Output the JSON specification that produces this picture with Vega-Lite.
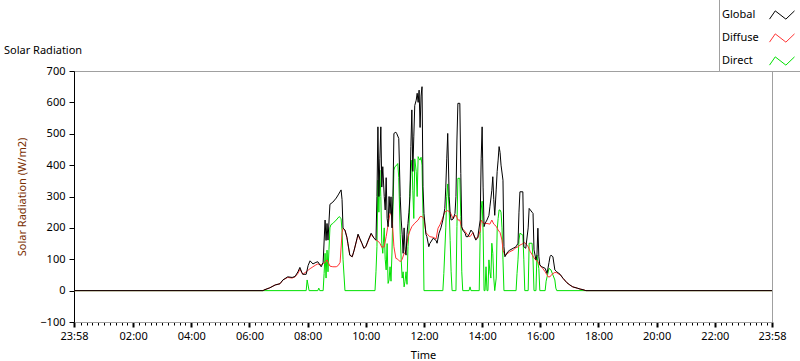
{
"$schema": "https://vega.github.io/schema/vega-lite/v6.json",
"width": 698, "height": 251,
"autosize": {"type": "none"},
"padding": {"left": 74, "top": 71, "right": 28, "bottom": 39},
"background": "#ffffff",
"title": {"text": "Solar Radiation", "anchor": "start", "frame": "group", "dx": -70, "offset": 0, "dy": 57, "font": "Noto Sans", "fontSize": 11, "fontWeight": "normal", "color": "#000000"},
"datasets": {
"global": [
{"t":"2023-12-31T23:58","v":0},{"t":"2024-01-01T06:26","v":0},{"t":"2024-01-01T06:28","v":0},{"t":"2024-01-01T06:30","v":2},{"t":"2024-01-01T06:42","v":9},{"t":"2024-01-01T06:53","v":18},{"t":"2024-01-01T07:03","v":22},{"t":"2024-01-01T07:09","v":34},{"t":"2024-01-01T07:19","v":44},{"t":"2024-01-01T07:28","v":42},{"t":"2024-01-01T07:34","v":45},{"t":"2024-01-01T07:40","v":60},{"t":"2024-01-01T07:44","v":74},{"t":"2024-01-01T07:48","v":58},{"t":"2024-01-01T07:50","v":52},{"t":"2024-01-01T07:57","v":52},{"t":"2024-01-01T08:01","v":80},{"t":"2024-01-01T08:05","v":95},{"t":"2024-01-01T08:11","v":85},{"t":"2024-01-01T08:17","v":90},{"t":"2024-01-01T08:21","v":92},{"t":"2024-01-01T08:28","v":76},{"t":"2024-01-01T08:32","v":90},{"t":"2024-01-01T08:36","v":225},{"t":"2024-01-01T08:38","v":160},{"t":"2024-01-01T08:40","v":214},{"t":"2024-01-01T08:42","v":161},{"t":"2024-01-01T08:46","v":275},{"t":"2024-01-01T08:52","v":282},{"t":"2024-01-01T08:59","v":295},{"t":"2024-01-01T09:03","v":305},{"t":"2024-01-01T09:09","v":321},{"t":"2024-01-01T09:11","v":290},{"t":"2024-01-01T09:13","v":199},{"t":"2024-01-01T09:17","v":193},{"t":"2024-01-01T09:21","v":170},{"t":"2024-01-01T09:23","v":151},{"t":"2024-01-01T09:27","v":113},{"t":"2024-01-01T09:32","v":108},{"t":"2024-01-01T09:36","v":129},{"t":"2024-01-01T09:42","v":167},{"t":"2024-01-01T09:44","v":180},{"t":"2024-01-01T09:48","v":165},{"t":"2024-01-01T09:52","v":151},{"t":"2024-01-01T09:56","v":135},{"t":"2024-01-01T10:00","v":140},{"t":"2024-01-01T10:05","v":161},{"t":"2024-01-01T10:11","v":183},{"t":"2024-01-01T10:17","v":167},{"t":"2024-01-01T10:21","v":161},{"t":"2024-01-01T10:23","v":300},{"t":"2024-01-01T10:25","v":522},{"t":"2024-01-01T10:27","v":300},{"t":"2024-01-01T10:29","v":420},{"t":"2024-01-01T10:31","v":522},{"t":"2024-01-01T10:33","v":330},{"t":"2024-01-01T10:35","v":395},{"t":"2024-01-01T10:38","v":300},{"t":"2024-01-01T10:40","v":257},{"t":"2024-01-01T10:42","v":360},{"t":"2024-01-01T10:44","v":230},{"t":"2024-01-01T10:46","v":204},{"t":"2024-01-01T10:48","v":300},{"t":"2024-01-01T10:50","v":246},{"t":"2024-01-01T10:52","v":299},{"t":"2024-01-01T10:54","v":200},{"t":"2024-01-01T10:56","v":300},{"t":"2024-01-01T10:58","v":501},{"t":"2024-01-01T11:02","v":505},{"t":"2024-01-01T11:04","v":500},{"t":"2024-01-01T11:08","v":485},{"t":"2024-01-01T11:11","v":300},{"t":"2024-01-01T11:13","v":225},{"t":"2024-01-01T11:15","v":180},{"t":"2024-01-01T11:17","v":119},{"t":"2024-01-01T11:19","v":200},{"t":"2024-01-01T11:21","v":130},{"t":"2024-01-01T11:23","v":113},{"t":"2024-01-01T11:25","v":180},{"t":"2024-01-01T11:27","v":214},{"t":"2024-01-01T11:29","v":250},{"t":"2024-01-01T11:31","v":300},{"t":"2024-01-01T11:33","v":459},{"t":"2024-01-01T11:35","v":576},{"t":"2024-01-01T11:37","v":380},{"t":"2024-01-01T11:39","v":490},{"t":"2024-01-01T11:41","v":590},{"t":"2024-01-01T11:44","v":607},{"t":"2024-01-01T11:46","v":629},{"t":"2024-01-01T11:48","v":600},{"t":"2024-01-01T11:50","v":639},{"t":"2024-01-01T11:52","v":520},{"t":"2024-01-01T11:54","v":620},{"t":"2024-01-01T11:56","v":650},{"t":"2024-01-01T11:58","v":331},{"t":"2024-01-01T12:00","v":246},{"t":"2024-01-01T12:04","v":180},{"t":"2024-01-01T12:06","v":172},{"t":"2024-01-01T12:10","v":140},{"t":"2024-01-01T12:12","v":150},{"t":"2024-01-01T12:19","v":167},{"t":"2024-01-01T12:25","v":160},{"t":"2024-01-01T12:27","v":151},{"t":"2024-01-01T12:31","v":183},{"t":"2024-01-01T12:35","v":200},{"t":"2024-01-01T12:39","v":225},{"t":"2024-01-01T12:43","v":262},{"t":"2024-01-01T12:45","v":330},{"t":"2024-01-01T12:47","v":420},{"t":"2024-01-01T12:49","v":501},{"t":"2024-01-01T12:52","v":300},{"t":"2024-01-01T12:54","v":246},{"t":"2024-01-01T12:56","v":225},{"t":"2024-01-01T13:00","v":228},{"t":"2024-01-01T13:04","v":246},{"t":"2024-01-01T13:06","v":300},{"t":"2024-01-01T13:08","v":480},{"t":"2024-01-01T13:10","v":597},{"t":"2024-01-01T13:14","v":597},{"t":"2024-01-01T13:16","v":374},{"t":"2024-01-01T13:18","v":204},{"t":"2024-01-01T13:20","v":193},{"t":"2024-01-01T13:25","v":183},{"t":"2024-01-01T13:27","v":172},{"t":"2024-01-01T13:31","v":172},{"t":"2024-01-01T13:37","v":193},{"t":"2024-01-01T13:41","v":185},{"t":"2024-01-01T13:47","v":161},{"t":"2024-01-01T13:51","v":170},{"t":"2024-01-01T13:56","v":225},{"t":"2024-01-01T13:58","v":420},{"t":"2024-01-01T14:00","v":522},{"t":"2024-01-01T14:02","v":330},{"t":"2024-01-01T14:04","v":204},{"t":"2024-01-01T14:06","v":214},{"t":"2024-01-01T14:10","v":225},{"t":"2024-01-01T14:14","v":240},{"t":"2024-01-01T14:16","v":267},{"t":"2024-01-01T14:20","v":320},{"t":"2024-01-01T14:22","v":363},{"t":"2024-01-01T14:24","v":290},{"t":"2024-01-01T14:26","v":240},{"t":"2024-01-01T14:29","v":321},{"t":"2024-01-01T14:31","v":380},{"t":"2024-01-01T14:33","v":416},{"t":"2024-01-01T14:35","v":459},{"t":"2024-01-01T14:37","v":440},{"t":"2024-01-01T14:39","v":400},{"t":"2024-01-01T14:43","v":352},{"t":"2024-01-01T14:45","v":140},{"t":"2024-01-01T14:47","v":108},{"t":"2024-01-01T14:53","v":124},{"t":"2024-01-01T14:57","v":129},{"t":"2024-01-01T15:04","v":135},{"t":"2024-01-01T15:10","v":140},{"t":"2024-01-01T15:14","v":151},{"t":"2024-01-01T15:16","v":250},{"t":"2024-01-01T15:18","v":315},{"t":"2024-01-01T15:24","v":315},{"t":"2024-01-01T15:26","v":140},{"t":"2024-01-01T15:30","v":135},{"t":"2024-01-01T15:35","v":200},{"t":"2024-01-01T15:37","v":262},{"t":"2024-01-01T15:43","v":250},{"t":"2024-01-01T15:45","v":246},{"t":"2024-01-01T15:47","v":130},{"t":"2024-01-01T15:51","v":98},{"t":"2024-01-01T15:53","v":110},{"t":"2024-01-01T15:55","v":199},{"t":"2024-01-01T15:57","v":108},{"t":"2024-01-01T15:59","v":82},{"t":"2024-01-01T16:03","v":76},{"t":"2024-01-01T16:10","v":71},{"t":"2024-01-01T16:14","v":55},{"t":"2024-01-01T16:18","v":90},{"t":"2024-01-01T16:20","v":108},{"t":"2024-01-01T16:22","v":113},{"t":"2024-01-01T16:26","v":108},{"t":"2024-01-01T16:30","v":66},{"t":"2024-01-01T16:34","v":60},{"t":"2024-01-01T16:41","v":52},{"t":"2024-01-01T16:47","v":39},{"t":"2024-01-01T16:55","v":25},{"t":"2024-01-01T17:01","v":18},{"t":"2024-01-01T17:07","v":12},{"t":"2024-01-01T17:16","v":8},{"t":"2024-01-01T17:22","v":5},{"t":"2024-01-01T17:28","v":3},{"t":"2024-01-01T17:34","v":0},{"t":"2024-01-01T23:58","v":0}
],
"diffuse": [
{"t":"2023-12-31T23:58","v":0},{"t":"2024-01-01T06:28","v":0},{"t":"2024-01-01T06:30","v":2},{"t":"2024-01-01T06:42","v":9},{"t":"2024-01-01T06:53","v":18},{"t":"2024-01-01T07:03","v":22},{"t":"2024-01-01T07:09","v":34},{"t":"2024-01-01T07:19","v":42},{"t":"2024-01-01T07:28","v":40},{"t":"2024-01-01T07:34","v":44},{"t":"2024-01-01T07:40","v":55},{"t":"2024-01-01T07:44","v":68},{"t":"2024-01-01T07:50","v":52},{"t":"2024-01-01T07:57","v":60},{"t":"2024-01-01T08:01","v":65},{"t":"2024-01-01T08:05","v":70},{"t":"2024-01-01T08:11","v":76},{"t":"2024-01-01T08:17","v":82},{"t":"2024-01-01T08:21","v":85},{"t":"2024-01-01T08:28","v":82},{"t":"2024-01-01T08:32","v":87},{"t":"2024-01-01T08:36","v":90},{"t":"2024-01-01T08:40","v":98},{"t":"2024-01-01T08:46","v":78},{"t":"2024-01-01T08:52","v":76},{"t":"2024-01-01T08:59","v":76},{"t":"2024-01-01T09:03","v":80},{"t":"2024-01-01T09:07","v":90},{"t":"2024-01-01T09:11","v":185},{"t":"2024-01-01T09:13","v":199},{"t":"2024-01-01T09:17","v":193},{"t":"2024-01-01T09:21","v":170},{"t":"2024-01-01T09:23","v":151},{"t":"2024-01-01T09:27","v":113},{"t":"2024-01-01T09:32","v":108},{"t":"2024-01-01T09:36","v":129},{"t":"2024-01-01T09:42","v":165},{"t":"2024-01-01T09:44","v":178},{"t":"2024-01-01T09:48","v":163},{"t":"2024-01-01T09:52","v":150},{"t":"2024-01-01T09:56","v":135},{"t":"2024-01-01T10:00","v":140},{"t":"2024-01-01T10:05","v":158},{"t":"2024-01-01T10:11","v":180},{"t":"2024-01-01T10:17","v":167},{"t":"2024-01-01T10:21","v":161},{"t":"2024-01-01T10:25","v":158},{"t":"2024-01-01T10:29","v":151},{"t":"2024-01-01T10:33","v":138},{"t":"2024-01-01T10:38","v":140},{"t":"2024-01-01T10:42","v":172},{"t":"2024-01-01T10:46","v":210},{"t":"2024-01-01T10:50","v":246},{"t":"2024-01-01T10:54","v":240},{"t":"2024-01-01T10:58","v":140},{"t":"2024-01-01T11:02","v":103},{"t":"2024-01-01T11:06","v":100},{"t":"2024-01-01T11:11","v":92},{"t":"2024-01-01T11:15","v":100},{"t":"2024-01-01T11:19","v":119},{"t":"2024-01-01T11:21","v":119},{"t":"2024-01-01T11:25","v":150},{"t":"2024-01-01T11:27","v":172},{"t":"2024-01-01T11:31","v":190},{"t":"2024-01-01T11:35","v":204},{"t":"2024-01-01T11:41","v":215},{"t":"2024-01-01T11:48","v":225},{"t":"2024-01-01T11:52","v":236},{"t":"2024-01-01T11:56","v":236},{"t":"2024-01-01T12:00","v":230},{"t":"2024-01-01T12:04","v":185},{"t":"2024-01-01T12:08","v":178},{"t":"2024-01-01T12:12","v":172},{"t":"2024-01-01T12:19","v":170},{"t":"2024-01-01T12:25","v":165},{"t":"2024-01-01T12:29","v":199},{"t":"2024-01-01T12:33","v":210},{"t":"2024-01-01T12:37","v":225},{"t":"2024-01-01T12:43","v":251},{"t":"2024-01-01T12:49","v":255},{"t":"2024-01-01T12:54","v":250},{"t":"2024-01-01T13:00","v":230},{"t":"2024-01-01T13:06","v":241},{"t":"2024-01-01T13:10","v":225},{"t":"2024-01-01T13:14","v":225},{"t":"2024-01-01T13:18","v":200},{"t":"2024-01-01T13:25","v":188},{"t":"2024-01-01T13:31","v":175},{"t":"2024-01-01T13:35","v":172},{"t":"2024-01-01T13:41","v":185},{"t":"2024-01-01T13:45","v":167},{"t":"2024-01-01T13:51","v":168},{"t":"2024-01-01T13:56","v":190},{"t":"2024-01-01T13:58","v":225},{"t":"2024-01-01T14:02","v":215},{"t":"2024-01-01T14:06","v":214},{"t":"2024-01-01T14:10","v":214},{"t":"2024-01-01T14:16","v":212},{"t":"2024-01-01T14:20","v":225},{"t":"2024-01-01T14:24","v":212},{"t":"2024-01-01T14:29","v":205},{"t":"2024-01-01T14:33","v":193},{"t":"2024-01-01T14:37","v":185},{"t":"2024-01-01T14:41","v":161},{"t":"2024-01-01T14:43","v":129},{"t":"2024-01-01T14:47","v":113},{"t":"2024-01-01T14:53","v":119},{"t":"2024-01-01T14:57","v":124},{"t":"2024-01-01T15:04","v":129},{"t":"2024-01-01T15:08","v":135},{"t":"2024-01-01T15:14","v":140},{"t":"2024-01-01T15:18","v":145},{"t":"2024-01-01T15:22","v":148},{"t":"2024-01-01T15:28","v":153},{"t":"2024-01-01T15:35","v":140},{"t":"2024-01-01T15:39","v":125},{"t":"2024-01-01T15:45","v":110},{"t":"2024-01-01T15:49","v":100},{"t":"2024-01-01T15:55","v":92},{"t":"2024-01-01T15:59","v":80},{"t":"2024-01-01T16:05","v":71},{"t":"2024-01-01T16:10","v":60},{"t":"2024-01-01T16:14","v":50},{"t":"2024-01-01T16:16","v":44},{"t":"2024-01-01T16:20","v":44},{"t":"2024-01-01T16:24","v":52},{"t":"2024-01-01T16:30","v":58},{"t":"2024-01-01T16:34","v":57},{"t":"2024-01-01T16:41","v":50},{"t":"2024-01-01T16:47","v":39},{"t":"2024-01-01T16:55","v":25},{"t":"2024-01-01T17:01","v":18},{"t":"2024-01-01T17:07","v":12},{"t":"2024-01-01T17:16","v":8},{"t":"2024-01-01T17:22","v":5},{"t":"2024-01-01T17:28","v":3},{"t":"2024-01-01T17:34","v":0},{"t":"2024-01-01T23:58","v":0}
],
"direct": [
{"t":"2023-12-31T23:58","v":0},{"t":"2024-01-01T07:57","v":0},{"t":"2024-01-01T07:59","v":34},{"t":"2024-01-01T08:03","v":0},{"t":"2024-01-01T08:21","v":0},{"t":"2024-01-01T08:23","v":8},{"t":"2024-01-01T08:25","v":0},{"t":"2024-01-01T08:32","v":0},{"t":"2024-01-01T08:34","v":55},{"t":"2024-01-01T08:36","v":119},{"t":"2024-01-01T08:38","v":40},{"t":"2024-01-01T08:40","v":129},{"t":"2024-01-01T08:42","v":60},{"t":"2024-01-01T08:44","v":130},{"t":"2024-01-01T08:46","v":200},{"t":"2024-01-01T08:48","v":210},{"t":"2024-01-01T08:52","v":214},{"t":"2024-01-01T08:59","v":225},{"t":"2024-01-01T09:05","v":236},{"t":"2024-01-01T09:09","v":230},{"t":"2024-01-01T09:11","v":190},{"t":"2024-01-01T09:13","v":100},{"t":"2024-01-01T09:17","v":0},{"t":"2024-01-01T10:19","v":0},{"t":"2024-01-01T10:21","v":60},{"t":"2024-01-01T10:23","v":140},{"t":"2024-01-01T10:25","v":352},{"t":"2024-01-01T10:27","v":250},{"t":"2024-01-01T10:29","v":384},{"t":"2024-01-01T10:31","v":300},{"t":"2024-01-01T10:33","v":150},{"t":"2024-01-01T10:35","v":119},{"t":"2024-01-01T10:38","v":200},{"t":"2024-01-01T10:40","v":100},{"t":"2024-01-01T10:42","v":66},{"t":"2024-01-01T10:44","v":150},{"t":"2024-01-01T10:46","v":23},{"t":"2024-01-01T10:48","v":34},{"t":"2024-01-01T10:50","v":76},{"t":"2024-01-01T10:52","v":30},{"t":"2024-01-01T10:54","v":120},{"t":"2024-01-01T10:56","v":267},{"t":"2024-01-01T10:58","v":384},{"t":"2024-01-01T11:00","v":395},{"t":"2024-01-01T11:04","v":400},{"t":"2024-01-01T11:06","v":405},{"t":"2024-01-01T11:08","v":360},{"t":"2024-01-01T11:11","v":180},{"t":"2024-01-01T11:13","v":98},{"t":"2024-01-01T11:15","v":40},{"t":"2024-01-01T11:17","v":60},{"t":"2024-01-01T11:19","v":12},{"t":"2024-01-01T11:21","v":30},{"t":"2024-01-01T11:23","v":60},{"t":"2024-01-01T11:25","v":20},{"t":"2024-01-01T11:27","v":140},{"t":"2024-01-01T11:29","v":193},{"t":"2024-01-01T11:31","v":310},{"t":"2024-01-01T11:33","v":380},{"t":"2024-01-01T11:35","v":416},{"t":"2024-01-01T11:37","v":320},{"t":"2024-01-01T11:39","v":230},{"t":"2024-01-01T11:41","v":420},{"t":"2024-01-01T11:44","v":380},{"t":"2024-01-01T11:46","v":300},{"t":"2024-01-01T11:48","v":427},{"t":"2024-01-01T11:50","v":420},{"t":"2024-01-01T11:52","v":416},{"t":"2024-01-01T11:54","v":425},{"t":"2024-01-01T11:56","v":400},{"t":"2024-01-01T11:58","v":246},{"t":"2024-01-01T12:00","v":0},{"t":"2024-01-01T12:39","v":0},{"t":"2024-01-01T12:41","v":55},{"t":"2024-01-01T12:45","v":200},{"t":"2024-01-01T12:47","v":300},{"t":"2024-01-01T12:49","v":340},{"t":"2024-01-01T12:52","v":257},{"t":"2024-01-01T12:54","v":160},{"t":"2024-01-01T12:56","v":60},{"t":"2024-01-01T12:58","v":0},{"t":"2024-01-01T13:06","v":0},{"t":"2024-01-01T13:08","v":204},{"t":"2024-01-01T13:10","v":358},{"t":"2024-01-01T13:14","v":358},{"t":"2024-01-01T13:16","v":236},{"t":"2024-01-01T13:18","v":60},{"t":"2024-01-01T13:20","v":0},{"t":"2024-01-01T13:33","v":0},{"t":"2024-01-01T13:35","v":12},{"t":"2024-01-01T13:37","v":0},{"t":"2024-01-01T13:54","v":0},{"t":"2024-01-01T13:56","v":183},{"t":"2024-01-01T13:58","v":260},{"t":"2024-01-01T14:00","v":285},{"t":"2024-01-01T14:02","v":190},{"t":"2024-01-01T14:04","v":0},{"t":"2024-01-01T14:06","v":0},{"t":"2024-01-01T14:08","v":76},{"t":"2024-01-01T14:10","v":0},{"t":"2024-01-01T14:12","v":0},{"t":"2024-01-01T14:14","v":98},{"t":"2024-01-01T14:16","v":60},{"t":"2024-01-01T14:18","v":40},{"t":"2024-01-01T14:20","v":151},{"t":"2024-01-01T14:22","v":119},{"t":"2024-01-01T14:24","v":40},{"t":"2024-01-01T14:26","v":0},{"t":"2024-01-01T14:29","v":40},{"t":"2024-01-01T14:31","v":193},{"t":"2024-01-01T14:33","v":230},{"t":"2024-01-01T14:35","v":257},{"t":"2024-01-01T14:37","v":257},{"t":"2024-01-01T14:39","v":250},{"t":"2024-01-01T14:41","v":200},{"t":"2024-01-01T14:43","v":98},{"t":"2024-01-01T14:45","v":0},{"t":"2024-01-01T15:10","v":0},{"t":"2024-01-01T15:12","v":55},{"t":"2024-01-01T15:14","v":98},{"t":"2024-01-01T15:16","v":161},{"t":"2024-01-01T15:18","v":183},{"t":"2024-01-01T15:24","v":177},{"t":"2024-01-01T15:26","v":100},{"t":"2024-01-01T15:28","v":0},{"t":"2024-01-01T15:35","v":0},{"t":"2024-01-01T15:37","v":151},{"t":"2024-01-01T15:43","v":151},{"t":"2024-01-01T15:45","v":98},{"t":"2024-01-01T15:47","v":0},{"t":"2024-01-01T15:51","v":0},{"t":"2024-01-01T15:53","v":113},{"t":"2024-01-01T15:55","v":90},{"t":"2024-01-01T15:57","v":70},{"t":"2024-01-01T15:59","v":0},{"t":"2024-01-01T16:10","v":0},{"t":"2024-01-01T16:12","v":30},{"t":"2024-01-01T16:14","v":44},{"t":"2024-01-01T16:18","v":71},{"t":"2024-01-01T16:22","v":66},{"t":"2024-01-01T16:26","v":50},{"t":"2024-01-01T16:30","v":34},{"t":"2024-01-01T16:32","v":8},{"t":"2024-01-01T16:34","v":0},{"t":"2024-01-01T23:58","v":0}
]
},
"layer": [
{
"data": {"name": "direct"},
"mark": {"type": "line", "strokeWidth": 1},
"encoding": {
"x": {"field": "t", "type": "temporal",
 "scale": {"domain": [{"year": 2023, "month": 12, "date": 31, "hours": 23, "minutes": 58}, {"year": 2024, "month": 1, "date": 1, "hours": 23, "minutes": 58}], "nice": false},
 "axis": {"grid": false, "tickCount": 300,
  "values": [{"year":2023,"month":12,"date":31,"hours":23,"minutes":58},
{"year":2024,"month":1,"date":1,"hours":0,"minutes":12},{"year":2024,"month":1,"date":1,"hours":0,"minutes":24},{"year":2024,"month":1,"date":1,"hours":0,"minutes":36},{"year":2024,"month":1,"date":1,"hours":0,"minutes":48},
{"year":2024,"month":1,"date":1,"hours":1,"minutes":0},{"year":2024,"month":1,"date":1,"hours":1,"minutes":12},{"year":2024,"month":1,"date":1,"hours":1,"minutes":24},{"year":2024,"month":1,"date":1,"hours":1,"minutes":36},{"year":2024,"month":1,"date":1,"hours":1,"minutes":48},
{"year":2024,"month":1,"date":1,"hours":2,"minutes":0},{"year":2024,"month":1,"date":1,"hours":2,"minutes":12},{"year":2024,"month":1,"date":1,"hours":2,"minutes":24},{"year":2024,"month":1,"date":1,"hours":2,"minutes":36},{"year":2024,"month":1,"date":1,"hours":2,"minutes":48},
{"year":2024,"month":1,"date":1,"hours":3,"minutes":0},{"year":2024,"month":1,"date":1,"hours":3,"minutes":12},{"year":2024,"month":1,"date":1,"hours":3,"minutes":24},{"year":2024,"month":1,"date":1,"hours":3,"minutes":36},{"year":2024,"month":1,"date":1,"hours":3,"minutes":48},
{"year":2024,"month":1,"date":1,"hours":4,"minutes":0},{"year":2024,"month":1,"date":1,"hours":4,"minutes":12},{"year":2024,"month":1,"date":1,"hours":4,"minutes":24},{"year":2024,"month":1,"date":1,"hours":4,"minutes":36},{"year":2024,"month":1,"date":1,"hours":4,"minutes":48},
{"year":2024,"month":1,"date":1,"hours":5,"minutes":0},{"year":2024,"month":1,"date":1,"hours":5,"minutes":12},{"year":2024,"month":1,"date":1,"hours":5,"minutes":24},{"year":2024,"month":1,"date":1,"hours":5,"minutes":36},{"year":2024,"month":1,"date":1,"hours":5,"minutes":48},
{"year":2024,"month":1,"date":1,"hours":6,"minutes":0},{"year":2024,"month":1,"date":1,"hours":6,"minutes":12},{"year":2024,"month":1,"date":1,"hours":6,"minutes":24},{"year":2024,"month":1,"date":1,"hours":6,"minutes":36},{"year":2024,"month":1,"date":1,"hours":6,"minutes":48},
{"year":2024,"month":1,"date":1,"hours":7,"minutes":0},{"year":2024,"month":1,"date":1,"hours":7,"minutes":12},{"year":2024,"month":1,"date":1,"hours":7,"minutes":24},{"year":2024,"month":1,"date":1,"hours":7,"minutes":36},{"year":2024,"month":1,"date":1,"hours":7,"minutes":48},
{"year":2024,"month":1,"date":1,"hours":8,"minutes":0},{"year":2024,"month":1,"date":1,"hours":8,"minutes":12},{"year":2024,"month":1,"date":1,"hours":8,"minutes":24},{"year":2024,"month":1,"date":1,"hours":8,"minutes":36},{"year":2024,"month":1,"date":1,"hours":8,"minutes":48},
{"year":2024,"month":1,"date":1,"hours":9,"minutes":0},{"year":2024,"month":1,"date":1,"hours":9,"minutes":12},{"year":2024,"month":1,"date":1,"hours":9,"minutes":24},{"year":2024,"month":1,"date":1,"hours":9,"minutes":36},{"year":2024,"month":1,"date":1,"hours":9,"minutes":48},
{"year":2024,"month":1,"date":1,"hours":10,"minutes":0},{"year":2024,"month":1,"date":1,"hours":10,"minutes":12},{"year":2024,"month":1,"date":1,"hours":10,"minutes":24},{"year":2024,"month":1,"date":1,"hours":10,"minutes":36},{"year":2024,"month":1,"date":1,"hours":10,"minutes":48},
{"year":2024,"month":1,"date":1,"hours":11,"minutes":0},{"year":2024,"month":1,"date":1,"hours":11,"minutes":12},{"year":2024,"month":1,"date":1,"hours":11,"minutes":24},{"year":2024,"month":1,"date":1,"hours":11,"minutes":36},{"year":2024,"month":1,"date":1,"hours":11,"minutes":48},
{"year":2024,"month":1,"date":1,"hours":12,"minutes":0},{"year":2024,"month":1,"date":1,"hours":12,"minutes":12},{"year":2024,"month":1,"date":1,"hours":12,"minutes":24},{"year":2024,"month":1,"date":1,"hours":12,"minutes":36},{"year":2024,"month":1,"date":1,"hours":12,"minutes":48},
{"year":2024,"month":1,"date":1,"hours":13,"minutes":0},{"year":2024,"month":1,"date":1,"hours":13,"minutes":12},{"year":2024,"month":1,"date":1,"hours":13,"minutes":24},{"year":2024,"month":1,"date":1,"hours":13,"minutes":36},{"year":2024,"month":1,"date":1,"hours":13,"minutes":48},
{"year":2024,"month":1,"date":1,"hours":14,"minutes":0},{"year":2024,"month":1,"date":1,"hours":14,"minutes":12},{"year":2024,"month":1,"date":1,"hours":14,"minutes":24},{"year":2024,"month":1,"date":1,"hours":14,"minutes":36},{"year":2024,"month":1,"date":1,"hours":14,"minutes":48},
{"year":2024,"month":1,"date":1,"hours":15,"minutes":0},{"year":2024,"month":1,"date":1,"hours":15,"minutes":12},{"year":2024,"month":1,"date":1,"hours":15,"minutes":24},{"year":2024,"month":1,"date":1,"hours":15,"minutes":36},{"year":2024,"month":1,"date":1,"hours":15,"minutes":48},
{"year":2024,"month":1,"date":1,"hours":16,"minutes":0},{"year":2024,"month":1,"date":1,"hours":16,"minutes":12},{"year":2024,"month":1,"date":1,"hours":16,"minutes":24},{"year":2024,"month":1,"date":1,"hours":16,"minutes":36},{"year":2024,"month":1,"date":1,"hours":16,"minutes":48},
{"year":2024,"month":1,"date":1,"hours":17,"minutes":0},{"year":2024,"month":1,"date":1,"hours":17,"minutes":12},{"year":2024,"month":1,"date":1,"hours":17,"minutes":24},{"year":2024,"month":1,"date":1,"hours":17,"minutes":36},{"year":2024,"month":1,"date":1,"hours":17,"minutes":48},
{"year":2024,"month":1,"date":1,"hours":18,"minutes":0},{"year":2024,"month":1,"date":1,"hours":18,"minutes":12},{"year":2024,"month":1,"date":1,"hours":18,"minutes":24},{"year":2024,"month":1,"date":1,"hours":18,"minutes":36},{"year":2024,"month":1,"date":1,"hours":18,"minutes":48},
{"year":2024,"month":1,"date":1,"hours":19,"minutes":0},{"year":2024,"month":1,"date":1,"hours":19,"minutes":12},{"year":2024,"month":1,"date":1,"hours":19,"minutes":24},{"year":2024,"month":1,"date":1,"hours":19,"minutes":36},{"year":2024,"month":1,"date":1,"hours":19,"minutes":48},
{"year":2024,"month":1,"date":1,"hours":20,"minutes":0},{"year":2024,"month":1,"date":1,"hours":20,"minutes":12},{"year":2024,"month":1,"date":1,"hours":20,"minutes":24},{"year":2024,"month":1,"date":1,"hours":20,"minutes":36},{"year":2024,"month":1,"date":1,"hours":20,"minutes":48},
{"year":2024,"month":1,"date":1,"hours":21,"minutes":0},{"year":2024,"month":1,"date":1,"hours":21,"minutes":12},{"year":2024,"month":1,"date":1,"hours":21,"minutes":24},{"year":2024,"month":1,"date":1,"hours":21,"minutes":36},{"year":2024,"month":1,"date":1,"hours":21,"minutes":48},
{"year":2024,"month":1,"date":1,"hours":22,"minutes":0},{"year":2024,"month":1,"date":1,"hours":22,"minutes":12},{"year":2024,"month":1,"date":1,"hours":22,"minutes":24},{"year":2024,"month":1,"date":1,"hours":22,"minutes":36},{"year":2024,"month":1,"date":1,"hours":22,"minutes":48},
{"year":2024,"month":1,"date":1,"hours":23,"minutes":0},{"year":2024,"month":1,"date":1,"hours":23,"minutes":12},{"year":2024,"month":1,"date":1,"hours":23,"minutes":24},{"year":2024,"month":1,"date":1,"hours":23,"minutes":36},{"year":2024,"month":1,"date":1,"hours":23,"minutes":48},
{"year":2024,"month":1,"date":1,"hours":23,"minutes":58}],
  "format": "%H:%M",
  "labelExpr": "(minutes(datum.value) == 58 || (minutes(datum.value) == 0 && hours(datum.value) % 2 == 0)) ? datum.label : ''",
  "tickSize": {"condition": {"test": "minutes(datum.value) == 58 || (minutes(datum.value) == 0 && hours(datum.value) % 2 == 0)", "value": 5}, "value": 3},
  "tickWidth": {"condition": {"test": "minutes(datum.value) == 58 || (minutes(datum.value) == 0 && hours(datum.value) % 2 == 0)", "value": 2}, "value": 1},
  "tickColor": "#000000", "domainColor": "#a0a0a0",
  "labelFont": "Noto Sans", "labelFontSize": 11, "labelColor": "#000000", "labelPadding": 3, "labelOverlap": false, "labelFlush": false,
  "title": "Time", "titleFont": "Noto Sans", "titleFontSize": 11, "titleFontWeight": "normal", "titleColor": "#000000", "titlePadding": 8}},
"y": {"field": "v", "type": "quantitative",
 "scale": {"domain": [-100, 700], "nice": false, "zero": false},
 "axis": {"values": [-100, 0, 100, 200, 300, 400, 500, 600, 700], "tickCount": 50, "grid": false, "tickSize": 5, "tickColor": "#000000", "domainColor": "#000000",
  "labelFont": "Noto Sans", "labelFontSize": 11, "labelColor": "#000000", "labelPadding": 4, "labelOverlap": false,
  "title": "Solar Radiation (W/m2)", "titleFont": "Noto Sans", "titleFontSize": 11, "titleFontWeight": "normal", "titleColor": "#7a2e00", "titlePadding": 12}},
"color": {"datum": "Direct", "type": "nominal",
 "scale": {"domain": ["Global", "Diffuse", "Direct"], "range": ["#000000", "#ff3333", "#00e000"]},
 "legend": {"orient": "none", "legendX": 645, "legendY": -72, "title": null,
  "labelFont": "Noto Sans", "labelFontSize": 11, "labelColor": "#000000", "labelAlign": "left", "labelOffset": -73,
  "symbolType": "M-1,0.33L-0.54,-0.33L0.31,0.33L1,-0.33", "symbolSize": 625, "symbolStrokeWidth": 1, "symbolOffset": 47,
  "rowPadding": 3, "padding": 3, "strokeColor": "#a0a0a0", "fillColor": "#ffffff"}}
}
},
{
"data": {"name": "diffuse"},
"mark": {"type": "line", "strokeWidth": 1},
"encoding": {
"x": {"field": "t", "type": "temporal"},
"y": {"field": "v", "type": "quantitative"},
"color": {"datum": "Diffuse", "type": "nominal"}
}
},
{
"data": {"name": "global"},
"mark": {"type": "line", "strokeWidth": 1},
"encoding": {
"x": {"field": "t", "type": "temporal"},
"y": {"field": "v", "type": "quantitative"},
"color": {"datum": "Global", "type": "nominal"}
}
}
],
"config": {"view": {"stroke": "#a0a0a0", "strokeWidth": 1}}
}
